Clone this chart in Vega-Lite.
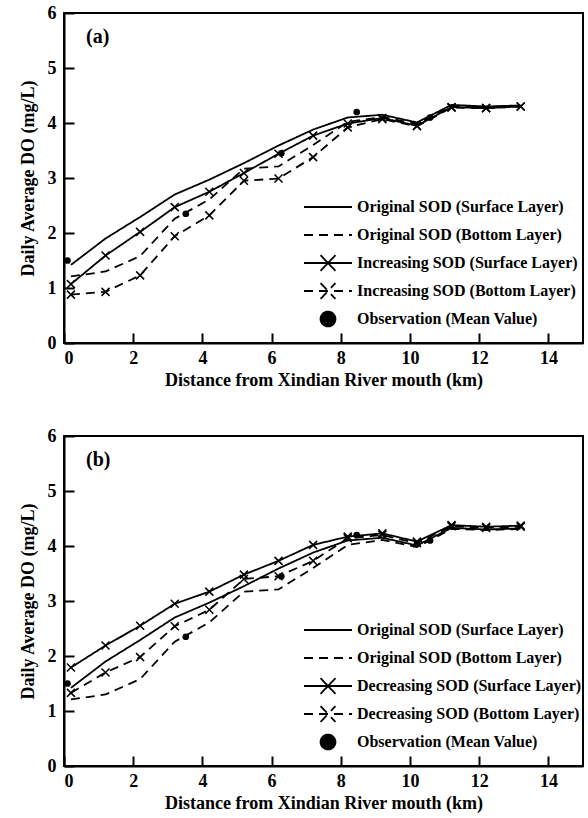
{
  "$schema": "https://vega.github.io/schema/vega-lite/v6.json",
  "padding": {"left": 18, "top": 3, "right": 3, "bottom": 5},
  "spacing": 36,
  "datasets": {
    "a": [
      {"series": "Original SOD (Surface Layer)", "x": 0.2, "y": 1.42},
      {"series": "Original SOD (Surface Layer)", "x": 1.2, "y": 1.90},
      {"series": "Original SOD (Surface Layer)", "x": 2.2, "y": 2.29},
      {"series": "Original SOD (Surface Layer)", "x": 3.2, "y": 2.70},
      {"series": "Original SOD (Surface Layer)", "x": 4.2, "y": 2.97},
      {"series": "Original SOD (Surface Layer)", "x": 5.2, "y": 3.27},
      {"series": "Original SOD (Surface Layer)", "x": 6.2, "y": 3.59},
      {"series": "Original SOD (Surface Layer)", "x": 7.2, "y": 3.88},
      {"series": "Original SOD (Surface Layer)", "x": 8.2, "y": 4.10},
      {"series": "Original SOD (Surface Layer)", "x": 9.2, "y": 4.15},
      {"series": "Original SOD (Surface Layer)", "x": 10.2, "y": 4.01},
      {"series": "Original SOD (Surface Layer)", "x": 11.2, "y": 4.33},
      {"series": "Original SOD (Surface Layer)", "x": 12.2, "y": 4.30},
      {"series": "Original SOD (Surface Layer)", "x": 13.2, "y": 4.32},
      {"series": "Original SOD (Bottom Layer)", "x": 0.2, "y": 1.21},
      {"series": "Original SOD (Bottom Layer)", "x": 1.2, "y": 1.30},
      {"series": "Original SOD (Bottom Layer)", "x": 2.2, "y": 1.58},
      {"series": "Original SOD (Bottom Layer)", "x": 3.2, "y": 2.26},
      {"series": "Original SOD (Bottom Layer)", "x": 4.2, "y": 2.61},
      {"series": "Original SOD (Bottom Layer)", "x": 5.2, "y": 3.17},
      {"series": "Original SOD (Bottom Layer)", "x": 6.2, "y": 3.21},
      {"series": "Original SOD (Bottom Layer)", "x": 7.2, "y": 3.60},
      {"series": "Original SOD (Bottom Layer)", "x": 8.2, "y": 4.02},
      {"series": "Original SOD (Bottom Layer)", "x": 9.2, "y": 4.11},
      {"series": "Original SOD (Bottom Layer)", "x": 10.2, "y": 3.98},
      {"series": "Original SOD (Bottom Layer)", "x": 11.2, "y": 4.31},
      {"series": "Original SOD (Bottom Layer)", "x": 12.2, "y": 4.29},
      {"series": "Original SOD (Bottom Layer)", "x": 13.2, "y": 4.31},
      {"series": "Increasing SOD (Surface Layer)", "x": 0.2, "y": 1.07},
      {"series": "Increasing SOD (Surface Layer)", "x": 1.2, "y": 1.59},
      {"series": "Increasing SOD (Surface Layer)", "x": 2.2, "y": 2.02},
      {"series": "Increasing SOD (Surface Layer)", "x": 3.2, "y": 2.47},
      {"series": "Increasing SOD (Surface Layer)", "x": 4.2, "y": 2.75},
      {"series": "Increasing SOD (Surface Layer)", "x": 5.2, "y": 3.09},
      {"series": "Increasing SOD (Surface Layer)", "x": 6.2, "y": 3.44},
      {"series": "Increasing SOD (Surface Layer)", "x": 7.2, "y": 3.77},
      {"series": "Increasing SOD (Surface Layer)", "x": 8.2, "y": 3.99},
      {"series": "Increasing SOD (Surface Layer)", "x": 9.2, "y": 4.09},
      {"series": "Increasing SOD (Surface Layer)", "x": 10.2, "y": 3.95},
      {"series": "Increasing SOD (Surface Layer)", "x": 11.2, "y": 4.29},
      {"series": "Increasing SOD (Surface Layer)", "x": 12.2, "y": 4.27},
      {"series": "Increasing SOD (Surface Layer)", "x": 13.2, "y": 4.30},
      {"series": "Increasing SOD (Bottom Layer)", "x": 0.2, "y": 0.88},
      {"series": "Increasing SOD (Bottom Layer)", "x": 1.2, "y": 0.93},
      {"series": "Increasing SOD (Bottom Layer)", "x": 2.2, "y": 1.23},
      {"series": "Increasing SOD (Bottom Layer)", "x": 3.2, "y": 1.94},
      {"series": "Increasing SOD (Bottom Layer)", "x": 4.2, "y": 2.32},
      {"series": "Increasing SOD (Bottom Layer)", "x": 5.2, "y": 2.95},
      {"series": "Increasing SOD (Bottom Layer)", "x": 6.2, "y": 2.99},
      {"series": "Increasing SOD (Bottom Layer)", "x": 7.2, "y": 3.38},
      {"series": "Increasing SOD (Bottom Layer)", "x": 8.2, "y": 3.92},
      {"series": "Increasing SOD (Bottom Layer)", "x": 9.2, "y": 4.07},
      {"series": "Increasing SOD (Bottom Layer)", "x": 10.2, "y": 3.94},
      {"series": "Increasing SOD (Bottom Layer)", "x": 11.2, "y": 4.28},
      {"series": "Increasing SOD (Bottom Layer)", "x": 12.2, "y": 4.27},
      {"series": "Increasing SOD (Bottom Layer)", "x": 13.2, "y": 4.30},
      {"series": "Observation (Mean Value)", "x": 0.1, "y": 1.50},
      {"series": "Observation (Mean Value)", "x": 3.52, "y": 2.35},
      {"series": "Observation (Mean Value)", "x": 6.28, "y": 3.45},
      {"series": "Observation (Mean Value)", "x": 8.46, "y": 4.20},
      {"series": "Observation (Mean Value)", "x": 10.58, "y": 4.10}
    ],
    "b": [
      {"series": "Original SOD (Surface Layer)", "x": 0.2, "y": 1.42},
      {"series": "Original SOD (Surface Layer)", "x": 1.2, "y": 1.90},
      {"series": "Original SOD (Surface Layer)", "x": 2.2, "y": 2.29},
      {"series": "Original SOD (Surface Layer)", "x": 3.2, "y": 2.70},
      {"series": "Original SOD (Surface Layer)", "x": 4.2, "y": 2.97},
      {"series": "Original SOD (Surface Layer)", "x": 5.2, "y": 3.27},
      {"series": "Original SOD (Surface Layer)", "x": 6.2, "y": 3.59},
      {"series": "Original SOD (Surface Layer)", "x": 7.2, "y": 3.88},
      {"series": "Original SOD (Surface Layer)", "x": 8.2, "y": 4.10},
      {"series": "Original SOD (Surface Layer)", "x": 9.2, "y": 4.15},
      {"series": "Original SOD (Surface Layer)", "x": 10.2, "y": 4.01},
      {"series": "Original SOD (Surface Layer)", "x": 11.2, "y": 4.33},
      {"series": "Original SOD (Surface Layer)", "x": 12.2, "y": 4.30},
      {"series": "Original SOD (Surface Layer)", "x": 13.2, "y": 4.32},
      {"series": "Original SOD (Bottom Layer)", "x": 0.2, "y": 1.21},
      {"series": "Original SOD (Bottom Layer)", "x": 1.2, "y": 1.30},
      {"series": "Original SOD (Bottom Layer)", "x": 2.2, "y": 1.58},
      {"series": "Original SOD (Bottom Layer)", "x": 3.2, "y": 2.26},
      {"series": "Original SOD (Bottom Layer)", "x": 4.2, "y": 2.61},
      {"series": "Original SOD (Bottom Layer)", "x": 5.2, "y": 3.17},
      {"series": "Original SOD (Bottom Layer)", "x": 6.2, "y": 3.21},
      {"series": "Original SOD (Bottom Layer)", "x": 7.2, "y": 3.60},
      {"series": "Original SOD (Bottom Layer)", "x": 8.2, "y": 4.02},
      {"series": "Original SOD (Bottom Layer)", "x": 9.2, "y": 4.11},
      {"series": "Original SOD (Bottom Layer)", "x": 10.2, "y": 3.98},
      {"series": "Original SOD (Bottom Layer)", "x": 11.2, "y": 4.31},
      {"series": "Original SOD (Bottom Layer)", "x": 12.2, "y": 4.29},
      {"series": "Original SOD (Bottom Layer)", "x": 13.2, "y": 4.31},
      {"series": "Decreasing SOD (Surface Layer)", "x": 0.2, "y": 1.79},
      {"series": "Decreasing SOD (Surface Layer)", "x": 1.2, "y": 2.19},
      {"series": "Decreasing SOD (Surface Layer)", "x": 2.2, "y": 2.55},
      {"series": "Decreasing SOD (Surface Layer)", "x": 3.2, "y": 2.95},
      {"series": "Decreasing SOD (Surface Layer)", "x": 4.2, "y": 3.17},
      {"series": "Decreasing SOD (Surface Layer)", "x": 5.2, "y": 3.48},
      {"series": "Decreasing SOD (Surface Layer)", "x": 6.2, "y": 3.73},
      {"series": "Decreasing SOD (Surface Layer)", "x": 7.2, "y": 4.02},
      {"series": "Decreasing SOD (Surface Layer)", "x": 8.2, "y": 4.17},
      {"series": "Decreasing SOD (Surface Layer)", "x": 9.2, "y": 4.23},
      {"series": "Decreasing SOD (Surface Layer)", "x": 10.2, "y": 4.08},
      {"series": "Decreasing SOD (Surface Layer)", "x": 11.2, "y": 4.38},
      {"series": "Decreasing SOD (Surface Layer)", "x": 12.2, "y": 4.35},
      {"series": "Decreasing SOD (Surface Layer)", "x": 13.2, "y": 4.37},
      {"series": "Decreasing SOD (Bottom Layer)", "x": 0.2, "y": 1.33},
      {"series": "Decreasing SOD (Bottom Layer)", "x": 1.2, "y": 1.70},
      {"series": "Decreasing SOD (Bottom Layer)", "x": 2.2, "y": 1.98},
      {"series": "Decreasing SOD (Bottom Layer)", "x": 3.2, "y": 2.54},
      {"series": "Decreasing SOD (Bottom Layer)", "x": 4.2, "y": 2.84},
      {"series": "Decreasing SOD (Bottom Layer)", "x": 5.2, "y": 3.40},
      {"series": "Decreasing SOD (Bottom Layer)", "x": 6.2, "y": 3.45},
      {"series": "Decreasing SOD (Bottom Layer)", "x": 7.2, "y": 3.73},
      {"series": "Decreasing SOD (Bottom Layer)", "x": 8.2, "y": 4.14},
      {"series": "Decreasing SOD (Bottom Layer)", "x": 9.2, "y": 4.20},
      {"series": "Decreasing SOD (Bottom Layer)", "x": 10.2, "y": 4.05},
      {"series": "Decreasing SOD (Bottom Layer)", "x": 11.2, "y": 4.36},
      {"series": "Decreasing SOD (Bottom Layer)", "x": 12.2, "y": 4.33},
      {"series": "Decreasing SOD (Bottom Layer)", "x": 13.2, "y": 4.35},
      {"series": "Observation (Mean Value)", "x": 0.1, "y": 1.50},
      {"series": "Observation (Mean Value)", "x": 3.52, "y": 2.35},
      {"series": "Observation (Mean Value)", "x": 6.28, "y": 3.45},
      {"series": "Observation (Mean Value)", "x": 8.46, "y": 4.20},
      {"series": "Observation (Mean Value)", "x": 10.58, "y": 4.10}
    ]
  },
  "vconcat": [
    {
      "data": {"name": "a"},
      "width": 519,
      "height": 330,
      "title": {"text": "(a)", "anchor": "start", "frame": "group", "offset": 0, "dx": 22, "dy": 43, "fontSize": 20, "font": "Liberation Serif", "fontWeight": "bold", "color": "black"},
      "encoding": {
        "x": {"field": "x", "type": "quantitative", "scale": {"domain": [0, 15], "nice": false}, "axis": {"values": [0, 2, 4, 6, 8, 10, 12, 14], "title": "Distance from Xindian River mouth (km)", "labelPadding": 16}},
        "y": {"field": "y", "type": "quantitative", "scale": {"domain": [0, 6], "nice": false}, "axis": {"values": [0, 1, 2, 3, 4, 5, 6], "title": "Daily Average DO (mg/L)", "labelPadding": 18, "titlePadding": 10}}
      },
      "layer": [
        {
          "transform": [{"filter": "datum.series !== 'Observation (Mean Value)'"}],
          "mark": {"type": "line", "color": "black", "strokeWidth": 1.8},
          "encoding": {
            "strokeDash": {
              "field": "series", "type": "nominal",
              "scale": {"domain": ["Original SOD (Surface Layer)", "Original SOD (Bottom Layer)", "Increasing SOD (Surface Layer)", "Increasing SOD (Bottom Layer)", "Observation (Mean Value)"], "range": [[1, 0], [9, 6], [1, 0], [9, 6], [1, 0]]},
              "legend": {
                "orient": "none", "legendX": 251, "legendY": 181, "title": null,
                "symbolSize": 576, "labelOffset": 16, "rowPadding": 3, "gridAlign": "all",
                "labelFontSize": 16, "labelFont": "Liberation Serif", "labelFontWeight": "bold", "labelColor": "black", "labelLimit": 400,
                "symbolStrokeWidth": 1.8, "symbolStrokeColor": "black",
                "encode": {"symbols": {"update": {
                  "shape": {"signal": "indexof(datum.value, 'Observation') >= 0 ? 'M-0.62,0A0.62,0.62 0 1,0 0.62,0A0.62,0.62 0 1,0 -0.62,0Z' : (indexof(datum.value, 'Original') >= 0 ? 'M-2,-0.66L-2,-0.66M-2,0.66L-2,0.66M-2,0H2' : 'M-2,0H2M-0.62,-0.65L0.62,0.65M-0.62,0.65L0.62,-0.65')"},
                  "fill": {"signal": "indexof(datum.value, 'Observation') >= 0 ? 'black' : 'transparent'"},
                  "stroke": {"value": "black"}
                }}}
              }
            }
          }
        },
        {
          "transform": [{"filter": "indexof(datum.series, 'Increasing') >= 0"}],
          "mark": {"type": "point", "shape": "M-1,-1L1,1M-1,1L1,-1", "filled": false, "stroke": "black", "strokeWidth": 1.5, "size": 64, "opacity": 1}
        },
        {
          "transform": [{"filter": "datum.series === 'Observation (Mean Value)'"}],
          "mark": {"type": "circle", "color": "black", "size": 45, "opacity": 1}
        }
      ]
    },
    {
      "data": {"name": "b"},
      "width": 519,
      "height": 330,
      "title": {"text": "(b)", "anchor": "start", "frame": "group", "offset": 0, "dx": 22, "dy": 43, "fontSize": 20, "font": "Liberation Serif", "fontWeight": "bold", "color": "black"},
      "encoding": {
        "x": {"field": "x", "type": "quantitative", "scale": {"domain": [0, 15], "nice": false}, "axis": {"values": [0, 2, 4, 6, 8, 10, 12, 14], "title": "Distance from Xindian River mouth (km)", "labelPadding": 16}},
        "y": {"field": "y", "type": "quantitative", "scale": {"domain": [0, 6], "nice": false}, "axis": {"values": [0, 1, 2, 3, 4, 5, 6], "title": "Daily Average DO (mg/L)", "labelPadding": 18, "titlePadding": 10}}
      },
      "layer": [
        {
          "transform": [{"filter": "datum.series !== 'Observation (Mean Value)'"}],
          "mark": {"type": "line", "color": "black", "strokeWidth": 1.8},
          "encoding": {
            "strokeDash": {
              "field": "series", "type": "nominal",
              "scale": {"domain": ["Original SOD (Surface Layer)", "Original SOD (Bottom Layer)", "Decreasing SOD (Surface Layer)", "Decreasing SOD (Bottom Layer)", "Observation (Mean Value)"], "range": [[1, 0], [9, 6], [1, 0], [9, 6], [1, 0]]},
              "legend": {
                "orient": "none", "legendX": 251, "legendY": 181, "title": null,
                "symbolSize": 576, "labelOffset": 16, "rowPadding": 3, "gridAlign": "all",
                "labelFontSize": 16, "labelFont": "Liberation Serif", "labelFontWeight": "bold", "labelColor": "black", "labelLimit": 400,
                "symbolStrokeWidth": 1.8, "symbolStrokeColor": "black",
                "encode": {"symbols": {"update": {
                  "shape": {"signal": "indexof(datum.value, 'Observation') >= 0 ? 'M-0.62,0A0.62,0.62 0 1,0 0.62,0A0.62,0.62 0 1,0 -0.62,0Z' : (indexof(datum.value, 'Original') >= 0 ? 'M-2,-0.66L-2,-0.66M-2,0.66L-2,0.66M-2,0H2' : 'M-2,0H2M-0.62,-0.65L0.62,0.65M-0.62,0.65L0.62,-0.65')"},
                  "fill": {"signal": "indexof(datum.value, 'Observation') >= 0 ? 'black' : 'transparent'"},
                  "stroke": {"value": "black"}
                }}}
              }
            }
          }
        },
        {
          "transform": [{"filter": "indexof(datum.series, 'Decreasing') >= 0"}],
          "mark": {"type": "point", "shape": "M-1,-1L1,1M-1,1L1,-1", "filled": false, "stroke": "black", "strokeWidth": 1.5, "size": 64, "opacity": 1}
        },
        {
          "transform": [{"filter": "datum.series === 'Observation (Mean Value)'"}],
          "mark": {"type": "circle", "color": "black", "size": 45, "opacity": 1}
        }
      ]
    }
  ],
  "resolve": {"scale": {"strokeDash": "independent"}, "legend": {"strokeDash": "independent"}},
  "config": {
    "background": "white",
    "font": "Liberation Serif",
    "view": {"stroke": "black", "strokeWidth": 2},
    "axis": {
      "grid": false,
      "domainColor": "black", "domainWidth": 2,
      "tickColor": "black", "tickWidth": 2, "tickSize": -10,
      "labelFont": "Liberation Serif", "labelFontWeight": "bold", "labelFontSize": 18, "labelColor": "black",
      "titleFont": "Liberation Serif", "titleFontWeight": "bold", "titleFontSize": 18, "titleColor": "black"
    },
    "legend": {"padding": 0}
  }
}
